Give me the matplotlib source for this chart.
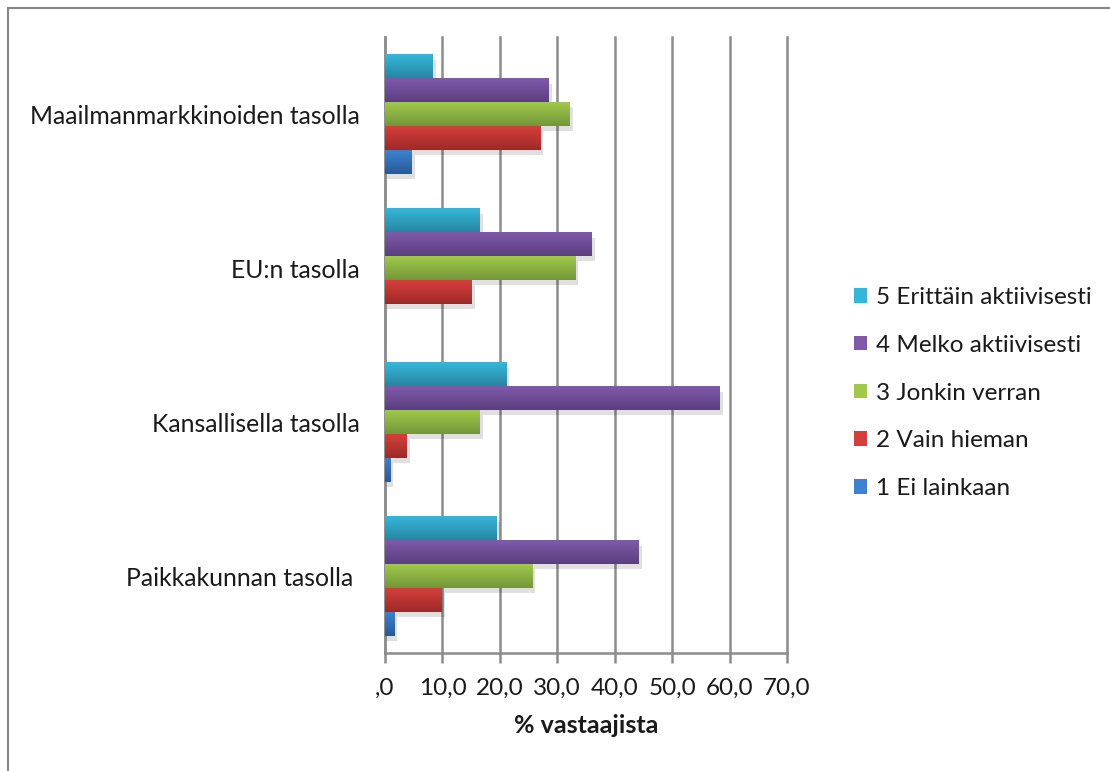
import numpy as np
import matplotlib.pyplot as plt
from matplotlib.patches import Patch
from matplotlib.colors import LinearSegmentedColormap
from matplotlib.lines import Line2D

plt.rcParams['font.family'] = ['Lato', 'DejaVu Sans']

# Categories from bottom to top
categories = ["Paikkakunnan tasolla ", "Kansallisella tasolla", "EU:n tasolla", "Maailmanmarkkinoiden tasolla"]

series_names = ["1 Ei lainkaan", "2 Vain hieman", "3 Jonkin verran",
                "4 Melko aktiivisesti", "5 Erittäin aktiivisesti"]
ei_lainkaan = [1.6, 0.9, 0.0, 4.7]
vain_hieman = [9.9, 3.8, 15.1, 27.0]
jonkin_verran = [25.6, 16.5, 33.1, 32.2]
melko_aktiivisesti = [44.2, 58.3, 36.0, 28.5]
erittain_aktiivisesti = [19.5, 21.1, 16.5, 8.3]
values = [ei_lainkaan, vain_hieman, jonkin_verran, melko_aktiivisesti, erittain_aktiivisesti]

xticks = [0, 10, 20, 30, 40, 50, 60, 70]
xticklabels = [",0", "10,0", "20,0", "30,0", "40,0", "50,0", "60,0", "70,0"]

# (top colour, bottom colour) for the gradient fill
colors = [("#3d82d0", "#285a98"),
          ("#d43f3c", "#9e2a28"),
          ("#a0c94b", "#74963a"),
          ("#7f5aa9", "#5b3e80"),
          ("#36b7da", "#2786a2")]

fig = plt.figure(figsize=(11.1, 7.71), dpi=100)
ax = fig.add_axes([385 / 1110, 1 - 653 / 771, 402 / 1110, 616 / 771])

y = np.arange(len(categories))
h = 0.155

for i, (vals, (ctop, cbot)) in enumerate(zip(values, colors)):
    vals = np.array(vals)
    pos = y + (i - 2) * h
    # soft shadow
    shadow = np.where(vals > 0, vals + 0.5, 0)
    ax.barh(pos - 0.035, shadow, height=h, left=0, color="#000000",
            alpha=0.12, zorder=2, linewidth=0)
    bars = ax.barh(pos, vals, height=h, color=cbot, zorder=3, linewidth=0)
    cmap = LinearSegmentedColormap.from_list("g%d" % i, [cbot, ctop])
    grad = np.linspace(0, 1, 50).reshape(-1, 1)
    for b in bars:
        x0, y0 = b.get_x(), b.get_y()
        w, hh = b.get_width(), b.get_height()
        if w <= 0:
            continue
        ax.imshow(grad, extent=(x0, x0 + w, y0, y0 + hh), origin="lower",
                  aspect="auto", cmap=cmap, zorder=4)

ax.set_xlim(0, 70)
ax.set_ylim(-0.5, len(categories) - 0.5)

ax.set_xticks(xticks)
ax.set_xticklabels(xticklabels, fontsize=17.5, color="#1a1a1a")
ax.set_yticks(y)
ax.set_yticklabels(categories, fontsize=17.8, color="#1a1a1a")

ax.grid(axis="x", color="#8c8c8c", linewidth=1.8, zorder=1)
ax.set_axisbelow(True)
for gl in ax.get_xgridlines():
    gl.set_clip_on(False)
for s in ["top", "right"]:
    ax.spines[s].set_visible(False)
for s in ["left", "bottom"]:
    ax.spines[s].set_color("#8c8c8c")
    ax.spines[s].set_linewidth(1.8)

ax.tick_params(axis="x", direction="out", length=7, width=1.8, color="#8c8c8c", pad=11)
ax.tick_params(axis="y", length=0, pad=18)

ax.set_xlabel("% vastaajista", fontsize=18, fontweight="bold", color="#1a1a1a", labelpad=11)

handles = [Patch(facecolor=c[0], edgecolor="none") for c in colors][::-1]
leg = fig.legend(handles, series_names[::-1], loc="center left",
                 bbox_to_anchor=(832 / 1110, 1 - 393 / 771), frameon=False,
                 fontsize=17.5, handlelength=0.55, handleheight=0.55,
                 handletextpad=0.35, labelspacing=1.1)
for t in leg.get_texts():
    t.set_color("#1a1a1a")

# outer chart frame (left and top edges visible)
fig.add_artist(Line2D([8 / 1110, 8 / 1110], [0, 1 - 8 / 771], transform=fig.transFigure,
                      color="#868686", linewidth=1.5))
fig.add_artist(Line2D([8 / 1110, 1], [1 - 8 / 771, 1 - 8 / 771], transform=fig.transFigure,
                      color="#868686", linewidth=1.5))

fig.savefig("out.png", dpi=100, facecolor="white")
